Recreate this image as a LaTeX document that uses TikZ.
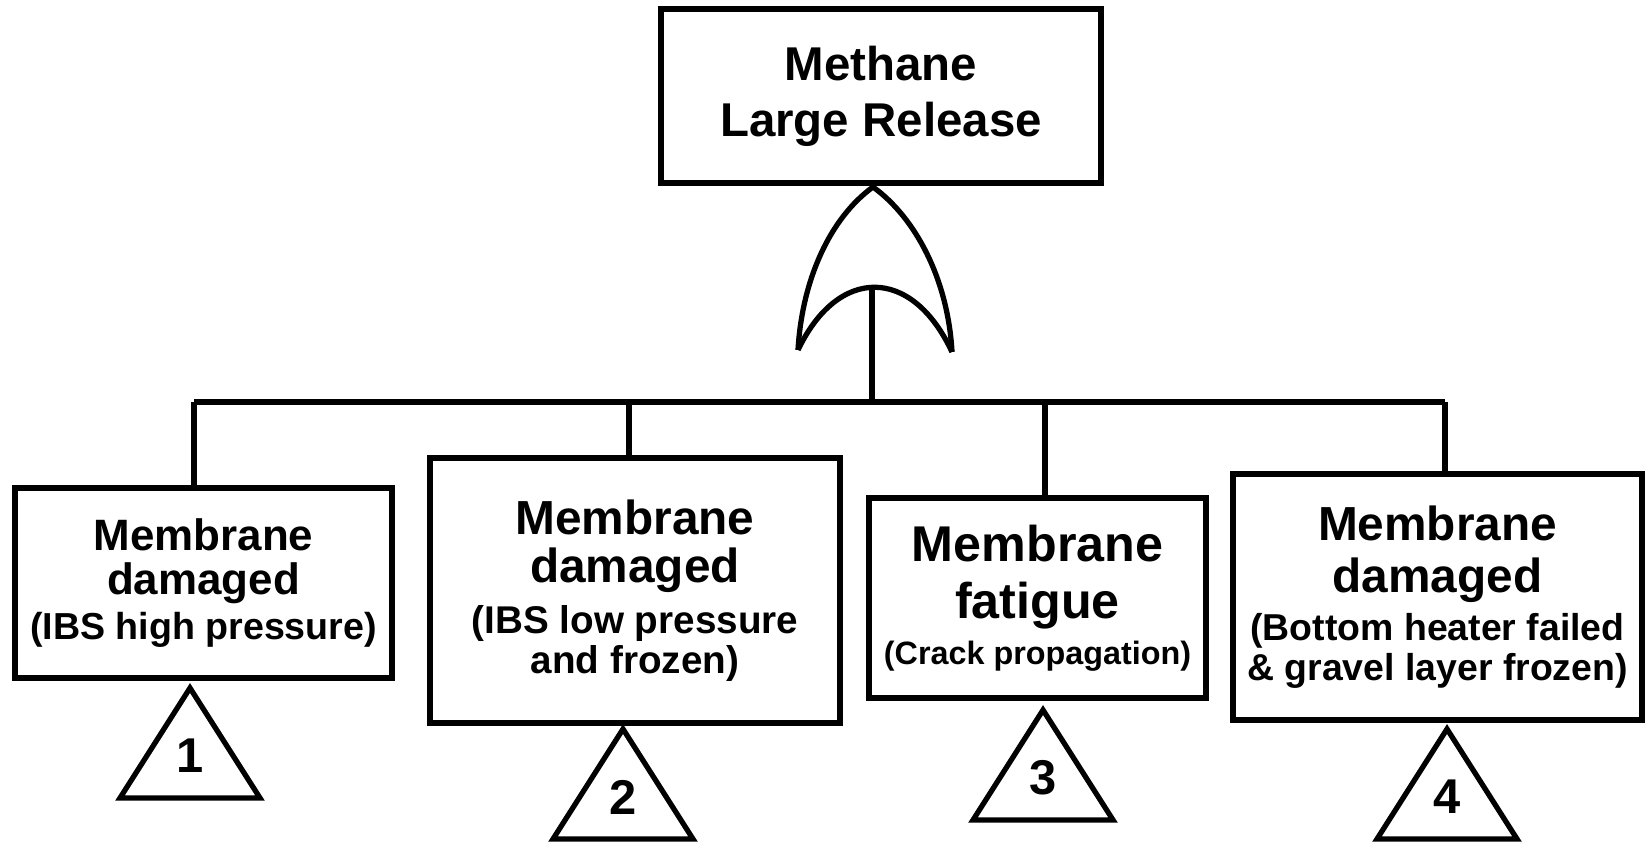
\documentclass[tikz,border=0pt]{standalone}
\usepackage{fontspec}
\setmainfont{Liberation Sans}

\begin{document}
\begin{tikzpicture}[x=0.02cm, y=-0.02cm,
  event/.style={draw, line width=3pt, align=center, inner sep=0pt},
  link/.style={line width=3pt},
  xfer/.style={line width=3pt, line join=miter},
  num/.style={inner sep=0pt, font=\fontsize{27.8}{30}\selectfont\bfseries}]
\useasboundingbox (0,0) rectangle (1645,844);

%%%%%TOP EVENT%%%%%%%%%
\node[event, minimum width=8.8cm, minimum height=3.48cm,
      font=\fontsize{27}{31.7}\selectfont\bfseries] (top) at (881,96)
      {Methane\\Large Release};

%%%%%OR GATE%%%%%%%%%%%
\draw[link] (798,350) .. controls (802,280) and (830,218) .. (873,187)
            .. controls (916,218) and (948,280) .. (952,352);
\draw[link] (798,350) .. controls (838,266) and (912,266) .. (952,352);
\coordinate (gate) at (872,287);

%%%%%BASIC EVENTS%%%%%%
\node[event, minimum width=7.54cm, minimum height=3.8cm,
      font=\fontsize{25}{25.5}\selectfont\bfseries] (ev1) at (203.5,583)
      {Membrane\\damaged\\
       {\fontsize{21.4}{25.5}\selectfont (IBS high pressure)}};
\node[event, minimum width=8.2cm, minimum height=5.3cm,
      font=\fontsize{27.2}{22.7}\selectfont\bfseries] (ev2) at (635,590.5)
      {Membrane\\[5.1pt]damaged\\[6.2pt]
       {\fontsize{22}{22.7}\selectfont (IBS low pressure}\\
       {\fontsize{22}{22.7}\selectfont and frozen)}};
\node[event, minimum width=6.74cm, minimum height=4cm,
      font=\fontsize{28.6}{26}\selectfont\bfseries] (ev3) at (1037.5,598)
      {Membrane\\[6.3pt]fatigue\\
       {\fontsize{18.4}{26}\selectfont (Crack propagation)}};
\node[event, minimum width=8.18cm, minimum height=4.92cm,
      font=\fontsize{27.2}{22.7}\selectfont\bfseries] (ev4) at (1437.5,597)
      {Membrane\\[7.3pt]damaged\\[4.5pt]
       {\fontsize{21.3}{22.7}\selectfont (Bottom heater failed}\\
       {\fontsize{21.3}{22.7}\selectfont \& gravel layer frozen)}};

%%%%%CONNECTIONS%%%%%%%
\coordinate (j1) at (194,402);
\coordinate (j2) at (629,402);
\coordinate (j3) at (1045,402);
\coordinate (j4) at (1445,402);
\draw[link] (gate) -- (gate |- j1);
\draw[link] (j1) -- (j4);
\draw[link] (j1) -- (j1 |- ev1.north);
\draw[link] (j2) -- (j2 |- ev2.north);
\draw[link] (j3) -- (j3 |- ev3.north);
\draw[link] (j4) -- (j4 |- ev4.north);

%%%%%TRANSFER TRIANGLES%%%%
\coordinate (a1) at (190,688);
\draw[xfer] (a1) -- ++(-70,110) -- ++(140,0) -- cycle;
\path (a1) ++(0,68) node[num] (n1) {1};

\coordinate (a2) at (623,729);
\draw[xfer] (a2) -- ++(-70,110) -- ++(140,0) -- cycle;
\path (a2) ++(0,68) node[num] (n2) {2};

\coordinate (a3) at (1043,710);
\draw[xfer] (a3) -- ++(-70,110) -- ++(140,0) -- cycle;
\path (a3) ++(0,68) node[num] (n3) {3};

\coordinate (a4) at (1447,729);
\draw[xfer] (a4) -- ++(-70,110) -- ++(140,0) -- cycle;
\path (a4) ++(0,68) node[num] (n4) {4};

\end{tikzpicture}
\end{document}
